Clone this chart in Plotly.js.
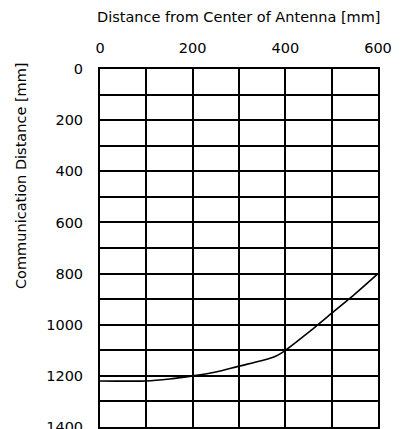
<!DOCTYPE html>
<html>
<head>
<meta charset="utf-8">
<script src="https://cdn.plot.ly/plotly-3.0.1.min.js"></script>
<style>html,body{margin:0;padding:0;background:#fff;}#chart{width:402px;height:429px;}</style>
</head>
<body>
<div id="chart"></div>
<script>
// Data
var distanceFromCenter = [0, 100, 150, 200, 250, 300, 350, 380, 400, 450, 500, 550, 600];
var communicationDistance = [1220, 1220, 1212, 1200, 1185, 1162, 1140, 1122, 1100, 1030, 955, 880, 800];
var xTickVals = [0, 200, 400, 600];
var xTickText = ["0", "200", "400", "600"];
var yTickVals = [0, 200, 400, 600, 800, 1000, 1200, 1400];
var yTickText = ["0", "200", "400", "600", "800", "1000", "1200", "1400"];
var xTitle = "Distance from Center of Antenna [mm]";
var yTitle = "Communication Distance [mm]";

var font = {family: "DejaVu Sans, Arial, sans-serif", size: 14.5, color: "#000"};

var trace = {
  x: distanceFromCenter,
  y: communicationDistance,
  type: "scatter",
  mode: "lines",
  line: {color: "#000", width: 1.6, shape: "spline", smoothing: 0.6},
  hoverinfo: "skip",
  showlegend: false
};

var layout = {
  width: 402,
  height: 429,
  margin: {l: 100, r: 24, t: 69, b: 2, pad: 0},
  paper_bgcolor: "#fff",
  plot_bgcolor: "#fff",
  font: font,
  showlegend: false,
  xaxis: {
    side: "top",
    range: [0, 600],
    tickvals: xTickVals,
    ticktext: xTickText,
    ticks: "",
    ticklabelstandoff: 8,
    ticklabeloverflow: "allow",
    showgrid: true,
    gridcolor: "#000",
    gridwidth: 2,
    minor: {dtick: 100, tick0: 0, showgrid: true, gridcolor: "#000", gridwidth: 2, ticks: ""},
    showline: true,
    linecolor: "#000",
    linewidth: 2,
    mirror: true,
    zeroline: false,
    tickfont: font,
    fixedrange: true
  },
  yaxis: {
    range: [1400, 0],
    tickvals: yTickVals,
    ticktext: yTickText,
    ticks: "",
    ticklabelstandoff: 12,
    ticklabeloverflow: "allow",
    showgrid: true,
    gridcolor: "#000",
    gridwidth: 2,
    minor: {dtick: 100, tick0: 0, showgrid: true, gridcolor: "#000", gridwidth: 2, ticks: ""},
    showline: true,
    linecolor: "#000",
    linewidth: 2,
    mirror: true,
    zeroline: false,
    tickfont: font,
    fixedrange: true
  },
  annotations: [
    {
      text: xTitle,
      xref: "paper", yref: "paper",
      x: 0.5, y: 1, yshift: 52,
      xanchor: "center", yanchor: "middle",
      showarrow: false,
      font: font
    },
    {
      text: yTitle,
      xref: "paper", yref: "paper",
      x: 0, xshift: -79,
      y: 1, yshift: 8,
      xanchor: "center", yanchor: "top",
      textangle: -90,
      showarrow: false,
      font: font
    }
  ]
};

Plotly.newPlot("chart", [trace], layout, {displayModeBar: false, staticPlot: true});
</script>
</body>
</html>
